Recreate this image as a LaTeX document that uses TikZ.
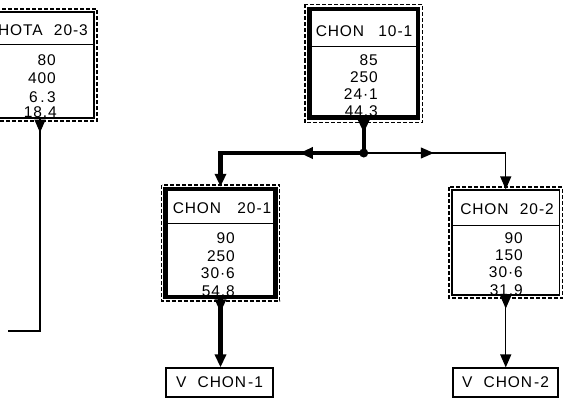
\documentclass[tikz,border=0pt]{standalone}
\usepackage{fontspec}
\setmainfont{Liberation Sans}[LetterSpace=6]
\usetikzlibrary{arrows.meta,decorations.markings}
\begin{document}
\begin{tikzpicture}[x=1pt,y=-1pt,
  font=\fontsize{15.5}{18}\selectfont,
  >={Triangle[width=11pt,length=13pt]},
  thinbox/.style={draw,line width=1.2pt,inner sep=0pt,rectangle},
  thickbox/.style={draw,line width=4.5pt,inner sep=0pt,rectangle},
  dashframe/.style={line width=1.6pt,dash pattern=on 4pt off 2pt},
  divider/.style={line width=1pt},
  thinline/.style={line width=1.2pt},
  thickline/.style={line width=4.5pt},
  midarrow/.style={postaction={decorate,decoration={markings,mark=at position #1 with {\arrow{>}}}}},
  val/.style={anchor=base east,inner sep=0pt},
  head/.style={anchor=base,inner sep=0pt}]
\useasboundingbox (0,0) rectangle (564,412);
\clip (0,0) rectangle (564,412);
\fill[white] (0,0) rectangle (564,412);

% dashed outer frames
\draw[dashframe] (-20,9) rectangle (97,121);
\draw[dashframe] (305,4.5) rectangle (422.5,122.5);
\draw[dashframe] (161.5,185) rectangle (279.5,301);
\draw[dashframe] (449,187) rectangle (562.5,298);

% boxes
\node[thinbox,minimum width=108pt,minimum height=106pt] (hota) at (40,65) {};
\node[thickbox,minimum width=108.5pt,minimum height=108.5pt] (top) at (363.75,63.25) {};
\node[thickbox,minimum width=110pt,minimum height=108pt] (b1) at (220.5,243) {};
\node[thinbox,minimum width=107.5pt,minimum height=105pt] (b2) at (505.75,242.5) {};
\node[thinbox,minimum width=107pt,minimum height=29pt] (v1) at (219.5,382.5) {V\hspace{6pt} CHON\hspace{2pt}-\hspace{1pt}1};
\node[thinbox,minimum width=105pt,minimum height=29pt] (v2) at (505.5,382.5) {V\hspace{6pt} CHON\hspace{2pt}-\hspace{1pt}2};

% header dividers
\draw[divider] (-14,45) -- (94,45);
\draw[divider] (309.5,47) -- (418,47);
\draw[divider] (165.5,223) -- (275.5,223);
\draw[divider] (452,225) -- (559.5,225);

% headers
\node[anchor=base east,inner sep=0pt] (hh) at (88,36) {HOTA\hspace{6pt} 20-3};
\node[head] (th) at (364,37) {CHON\hspace{9pt} 10-1};
\node[head] (b1h) at (222,213) {CHON\hspace{11pt} 20-1};
\node[head] (b2h) at (507,214) {CHON\hspace{6pt} 20-2};

% values
\node[val] at (56,65) {80};
\node[val] at (56,83) {400};
\node[val] at (56,102) {6\,.\,3};
\node[val] at (57,117) {18.4};

\node[val] at (378,65) {85};
\node[val] at (378,82) {250};
\node[val] at (378,99) {24·1};
\node[val] at (378,116) {44.3};

\node[val] at (235,243) {90};
\node[val] at (235,261) {250};
\node[val] at (235,278) {30·6};
\node[val] at (235,296) {54.8};

\node[val] at (523,243) {90};
\node[val] at (523,260) {150};
\node[val] at (523,277) {30·6};
\node[val] at (523,295) {31.9};

% connectors
\coordinate (j) at (top.south |- 0,153);
\coordinate (hend) at (8,331);
\draw[thickline,midarrow=13pt] (top.south) -- (j);
\draw[thickline,midarrow=64pt,->] (j) -| (b1.north);
\draw[thinline,midarrow=70pt,->] (j) -| (b2.north);
\fill (j) circle (4.5);
\draw[thickline,midarrow=13pt,->] (b1.south) -- (b1.south |- v1.north);
\draw[thinline,midarrow=13pt,->] (b2.south) -- (b2.south |- v2.north);
\draw[thinline,midarrow=14pt] (hota.south) |- (hend);
\end{tikzpicture}
\end{document}
